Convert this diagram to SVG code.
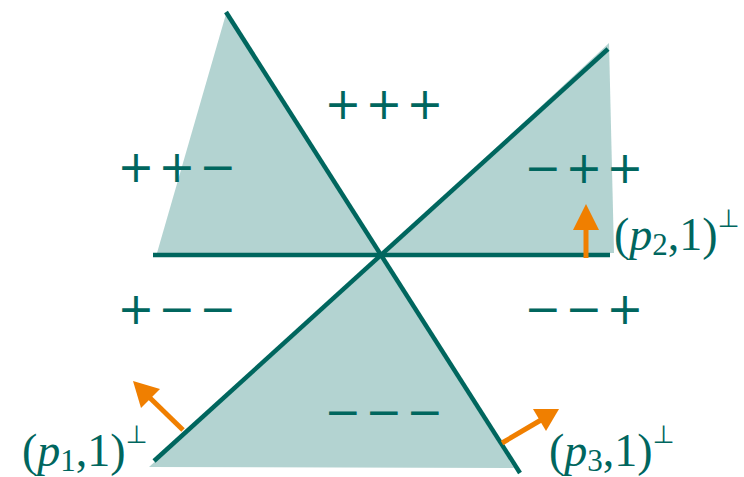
<svg xmlns="http://www.w3.org/2000/svg" width="744" height="477" viewBox="0 0 744 477">
<defs>
<style>
.fill{fill:#b3d3d1;stroke:none}
.ln{stroke:#00665e;stroke-width:4.5;fill:none}
.arr{stroke:#f07f00;stroke-width:5;fill:none}
.head{fill:#f07f00}
.sg{fill:#00665e;text-anchor:middle}
.lb{fill:#00665e}
</style>
</defs>
<rect width="744" height="477" fill="#ffffff"/>
<g id="regions">
<polygon class="fill" points="226,14 157,253 381,255"/>
<polygon class="fill" points="381,255 609,43 614,253"/>
<polygon class="fill" points="381,255 149,467 514,468"/>
</g>
<g id="connectors">
<line class="ln" x1="153" y1="255" x2="610" y2="255"/>
<line class="ln" x1="226" y1="12" x2="520" y2="473"/>
<line class="ln" x1="154" y1="461" x2="608" y2="49"/>
<line class="arr" x1="586" y1="258" x2="586" y2="226"/>
<polygon class="head" points="586,204 573,230 599,230"/>
<line class="arr" x1="183" y1="430" x2="149" y2="397"/>
<polygon class="head" points="133,381 160,389 141,408"/>
<line class="arr" x1="502" y1="443" x2="541" y2="420"/>
<polygon class="head" points="559,409 546,431 533,409"/>
</g>
<g id="signs" font-family="DejaVu Sans, sans-serif" font-size="44">
<text class="sg" y="119"><tspan x="343">+</tspan><tspan x="384">+</tspan><tspan x="425">+</tspan></text>
<text class="sg" y="182"><tspan x="136">+</tspan><tspan x="177">+</tspan><tspan x="218">−</tspan></text>
<text class="sg" y="183"><tspan x="543">−</tspan><tspan x="584">+</tspan><tspan x="625">+</tspan></text>
<text class="sg" y="324"><tspan x="136">+</tspan><tspan x="177">−</tspan><tspan x="218">−</tspan></text>
<text class="sg" y="324"><tspan x="543">−</tspan><tspan x="584">−</tspan><tspan x="625">+</tspan></text>
<text class="sg" y="427"><tspan x="343">−</tspan><tspan x="384">−</tspan><tspan x="425">−</tspan></text>
</g>
<g id="label-p1" font-family="Liberation Serif, serif" font-size="46">
<text class="lb" x="22" y="466">(<tspan font-style="italic">p</tspan><tspan font-size="31" dy="5">1</tspan><tspan dy="-5">,1)</tspan><tspan font-family="DejaVu Sans, sans-serif" font-size="25" dy="-23">⊥</tspan></text>
</g>
<g id="label-p2" font-family="Liberation Serif, serif" font-size="46">
<text class="lb" x="614" y="250">(<tspan font-style="italic">p</tspan><tspan font-size="31" dy="5">2</tspan><tspan dy="-5">,1)</tspan><tspan font-family="DejaVu Sans, sans-serif" font-size="25" dy="-23">⊥</tspan></text>
</g>
<g id="label-p3" font-family="Liberation Serif, serif" font-size="46">
<text class="lb" x="549" y="466">(<tspan font-style="italic">p</tspan><tspan font-size="31" dy="5">3</tspan><tspan dy="-5">,1)</tspan><tspan font-family="DejaVu Sans, sans-serif" font-size="25" dy="-23">⊥</tspan></text>
</g>
</svg>
